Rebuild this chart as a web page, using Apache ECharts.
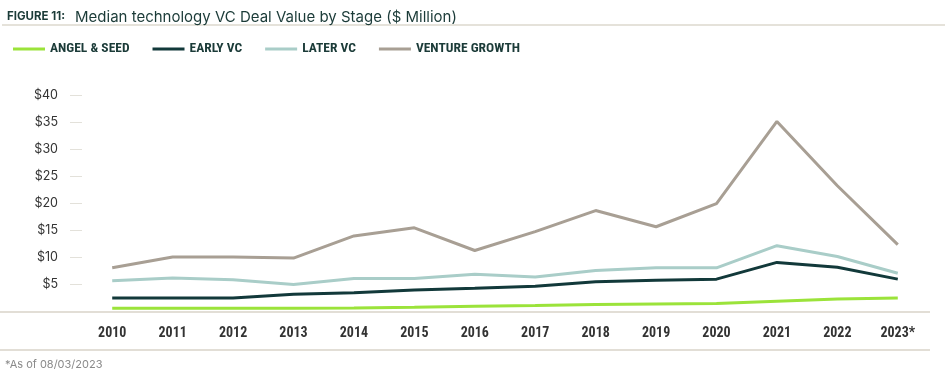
<!DOCTYPE html>
<html>
<head>
<meta charset="utf-8">
<script src="https://cdn.jsdelivr.net/npm/echarts@6/dist/echarts.min.js"></script>
<style>
  html, body { margin: 0; padding: 0; background: #fff; }
  #chart { width: 945px; height: 375px; }
</style>
</head>
<body>
<div id="chart"></div>
<script>
const years = ['2010', '2011', '2012', '2013', '2014', '2015', '2016', '2017', '2018', '2019', '2020', '2021', '2022', '2023*'];
const angelSeed = [0.5, 0.5, 0.5, 0.5, 0.55, 0.7, 0.9, 1.0, 1.2, 1.3, 1.4, 1.8, 2.2, 2.4];
const earlyVC = [2.4, 2.4, 2.4, 3.1, 3.4, 3.9, 4.2, 4.6, 5.4, 5.7, 5.9, 9.0, 8.1, 5.9];
const laterVC = [5.6, 6.1, 5.8, 4.9, 6.0, 6.0, 6.8, 6.3, 7.5, 8.0, 8.0, 12.1, 10.1, 7.0];
const ventureGrowth = [8.0, 10.0, 10.0, 9.8, 13.9, 15.4, 11.2, 14.7, 18.6, 15.6, 19.9, 35.1, 23.2, 12.3];
const yTicks = [0, 5, 10, 15, 20, 25, 30, 35, 40];

const condensed = '"Roboto Condensed", "Liberation Sans", sans-serif';
const teal = '#1b3b38';

const chart = echarts.init(document.getElementById('chart'));

function line(name, data, color) {
  return {
    name, type: 'line', data,
    symbol: 'none', smooth: false,
    lineStyle: { width: 3, color },
    itemStyle: { color },
    z: 3
  };
}

const option = {
  animation: false,
  backgroundColor: '#fff',
  title: {
    left: 2, top: 3,
    text: '{a|FIGURE 11:}  {b|Median technology VC Deal Value by Stage ($ Million)}',
    textStyle: {
      rich: {
        a: { fontFamily: 'Inter, sans-serif', fontWeight: 'bold', fontSize: 11.5, color: teal },
        b: { fontFamily: 'Inter, sans-serif', fontWeight: 'normal', fontSize: 15, color: teal }
      }
    }
  },
  legend: {
    left: 8, top: 37,
    itemWidth: 32, itemHeight: 3, itemGap: 23,
    icon: 'rect',
    textStyle: { fontFamily: condensed, fontWeight: 'bold', fontSize: 13.5, color: teal },
    data: ['ANGEL & SEED', 'EARLY VC', 'LATER VC', 'VENTURE GROWTH']
  },
  grid: { left: 82, right: 17, top: 95, bottom: 64 },
  xAxis: {
    type: 'category', data: years, boundaryGap: true,
    axisLine: { show: false }, axisTick: { show: false },
    axisLabel: { margin: 15, fontFamily: condensed, fontWeight: 'bold', fontSize: 14, color: '#333' }
  },
  yAxis: {
    type: 'value', min: yTicks[0], max: yTicks[yTicks.length - 1], interval: 5,
    axisLine: { show: false },
    axisTick: { show: true, length: 12, lineStyle: { color: '#e3e1da' } },
    splitLine: { show: false },
    axisLabel: {
      margin: 24, fontFamily: 'Inter, sans-serif', fontSize: 12.5, color: '#333',
      formatter: v => v === 0 ? '' : '$' + v
    }
  },
  graphic: [
    { type: 'line', shape: { x1: 2, y1: 25, x2: 945, y2: 25 }, style: { stroke: '#e5e2da', lineWidth: 2 } },
    { type: 'line', shape: { x1: 0, y1: 312, x2: 930, y2: 312 }, style: { stroke: '#e2ded6', lineWidth: 2 }, z: 1 },
    { type: 'line', shape: { x1: 0, y1: 350, x2: 930, y2: 350 }, style: { stroke: '#e2ded6', lineWidth: 2 } },
    { type: 'text', left: 5, top: 359, style: { text: '*As of 08/03/2023', fontFamily: 'Inter, sans-serif', fontSize: 11, fill: '#8a8a8a' } }
  ],
  series: [
    line('ANGEL & SEED', angelSeed, '#9be33a'),
    line('EARLY VC', earlyVC, '#12393a'),
    line('LATER VC', laterVC, '#a9cdc8'),
    line('VENTURE GROWTH', ventureGrowth, '#a89f94')
  ]
};

chart.setOption(option);
</script>
</body>
</html>
